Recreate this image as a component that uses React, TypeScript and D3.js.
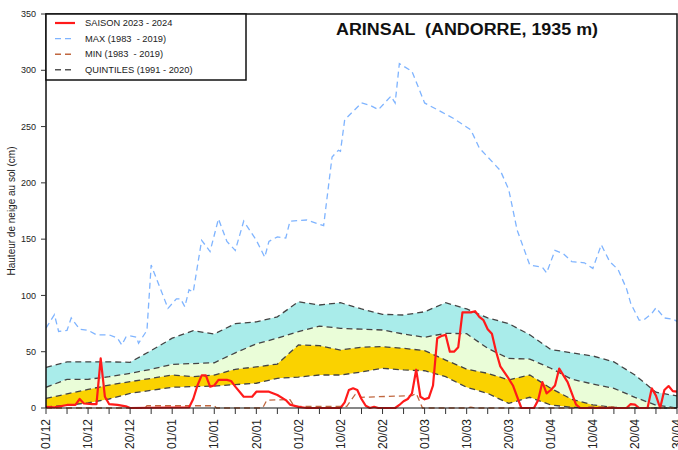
import React from "react";
import * as d3 from "d3";

// ---------- DATA ----------
const xLabels = ["01/12","10/12","20/12","01/01","10/01","20/01","01/02","10/02","20/02","01/03","10/03","20/03","01/04","10/04","20/04","30/04"];
const yTicks = [0,50,100,150,200,250,300,350];

// quintile nodes every 5 days (day index 0..150)
const quintileDays = [0,5,10,15,20,25,30,35,40,45,50,55,60,65,70,75,80,85,90,95,100,105,110,115,120,125,130,135,140,145,150];
const q80 = [36,41,41,41,40.6,51,62,68.7,65.7,75,76.5,81,94.4,91.5,93.5,88,83.2,82.6,85.5,93.5,88,80,75,65,52,49,46.2,41,29.3,14,10.7];
const q60 = [18.4,25.5,25.5,27.8,30.8,34.4,38.8,39.5,40.2,49,57,62,67.8,72.8,70.8,70,69.3,65.7,62.8,66.3,66,53,44,43.5,35.3,25.5,21.3,17.5,9.5,2.5,0];
const q40 = [8.6,12.5,16.5,20.4,23.4,26.3,29.3,27.8,29.3,34.4,36.5,39,56,55.4,51.5,54,54.5,53,51,42.6,34.5,30.8,25,29.3,17.5,7.7,2.7,0.6,0,0,0];
const q20 = [1,2.5,4.5,8,13,15.7,18.4,19,19.5,20.8,22,26.4,27.5,29.3,29.3,32,35.3,33.8,33.1,27.8,18.4,13,4.1,9.5,2.7,0.6,0,0,0,0,0];

const maxDays = [0,2,3,5,6,8,10,12,15,17,18,19,20,21.5,22,24,25,29,31,32,33,34,35,37,39,41,43,45,47,50,52,53,55,57,58,62,66,68,69.5,70,71,75,77,79,82,83,84,87,90,94,97,101,103,108,110,112,115,118,119,121,123,125,128,130,132,134,136,138,139,141,142,144,145,147,149,150];
const maxValues = [71,83,68,69,80,70,69,65,65,62,56,63,64,63,57.5,69,127,88.5,97,97,90,105,103,149,139,168,148,140,166,149,134,148,152,151,166,167,162,223,229,228,256,271,269,265,277,271,306,299,271,263,257,247,231,211,194,158,127,125,120,140,137,130,129,124,145,130,123,106,93,78,78,84,89,80,79,77];

const minDays = [0,23.5,24,40,40.5,51.5,52.5,58,59,71.5,73.5,75,87,88,89.5,100,101,102,128,129,135,136,150];
const minValues = [0,0,2,2,0,0,7,7.5,1.5,1.5,12,9.5,11,13,0,0,0.8,0,0,1,1,0,0];

const seasonDays = [0,2,5,7,8,9,11,12,13,14,15,17,19,20,34,35,36,37,38,39,40,41,43,44,45,47,49,50,53,55,57,58,60,62,70,71,72,73,74,75,76,77,78,79,83,84,85,86,87,88,89,90,91,92,93,94,95,96,97,98,99,101,102,103,104,105,106,107,108,110,111,112,113,116,117,118,119,120,121,122,123,124,125,126,127,138,139,140,141,143,144,145,146,147,148,149,150];
const seasonValues = [1,0.5,2.7,2.7,8,4,3.5,3.5,44,10,3.5,2.7,1.5,0,0.5,8,20,29,29,19,20,25,25,24,19,10,10,14.5,14.5,11.5,7,3,1,0,0,5,16,17.5,16,8,2,0,1,0,0,2.7,6,8,13,34,10,7.7,9,20,62,64,65,50,50,54,85,85,86,81,78,70,66,50,37,26,20,10,0,0,7,23,13,16,20,35,29,23,13,3,0,0,3.5,3,0,0,17.5,11,0,16,19.5,15,14.5];

const legendItems = [
  { label: "SAISON 2023 - 2024", color: "#ff1a1a", dash: "", width: 2.2 },
  { label: "MAX (1983  - 2019)", color: "#7fb4ff", dash: "6,4", width: 1.4 },
  { label: "MIN (1983  - 2019)", color: "#c0673f", dash: "6,4", width: 1.4 },
  { label: "QUINTILES (1991 - 2020)", color: "#555555", dash: "6,4", width: 1.4 },
];

// ---------- CHART ----------
export default function App() {
  const left = 46, right = 677, top = 14, bottom = 408;
  const x = d3.scaleLinear().domain([0, 150]).range([left, right]);
  const y = d3.scaleLinear().domain([0, 350]).range([bottom, top]);

  const band = (lo: number[], hi: number[]) =>
    d3.area<number>()
      .x((i) => x(quintileDays[i]))
      .y0((i) => y(lo[i]))
      .y1((i) => y(hi[i]))(quintileDays.map((_, i) => i)) || "";

  const qLine = (vals: number[]) =>
    d3.line<number>().x((i) => x(quintileDays[i])).y((i) => y(vals[i]))(quintileDays.map((_, i) => i)) || "";

  const seriesLine = (ds: number[], vs: number[]) =>
    d3.line<number>().x((i) => x(ds[i])).y((i) => y(vs[i]))(ds.map((_, i) => i)) || "";

  const majorTicks = xLabels.map((_, i) => i * 10);
  const minorTicks = xLabels.slice(0, -1).map((_, i) => i * 10 + 5);
  const font = "'Liberation Sans', Arial, Helvetica, sans-serif";

  return (
    <svg width={678} height={450} style={{ position: "absolute", left: 0, top: 0, background: "#fff" }} fontFamily={font}>
      <rect x={0} y={0} width={678} height={450} fill="#fff" />
      <defs>
        <clipPath id="plot">
          <rect x={left} y={top} width={right - left} height={bottom - top + 2} />
        </clipPath>
      </defs>
      <g clipPath="url(#plot)">
        <path d={band(q60, q80)} fill="#a9ecea" />
        <path d={band(q40, q60)} fill="#eafdd8" />
        <path d={band(q20, q40)} fill="#fad200" />
        {[q20, q40, q60, q80].map((q, k) => (
          <path key={k} d={qLine(q)} fill="none" stroke="#444" strokeWidth={1.3} strokeDasharray="6,4" />
        ))}
        <path d={seriesLine(minDays, minValues)} fill="none" stroke="#c0673f" strokeWidth={1.3} strokeDasharray="6,4" />
        <path d={seriesLine(maxDays, maxValues)} fill="none" stroke="#7fb4ff" strokeWidth={1.3} strokeDasharray="6,4" />
        <path d={seriesLine(seasonDays, seasonValues)} fill="none" stroke="#ff1a1a" strokeWidth={2.2} strokeLinejoin="round" />
      </g>

      {/* frame */}
      <path d={`M${left},${bottom}V${top}H${right}V${bottom}`} fill="none" stroke="#111" strokeWidth={1.5} />
      <line x1={left} x2={right} y1={bottom} y2={bottom} stroke="#111" strokeWidth={1.2} />

      {/* y axis */}
      {yTicks.map((t) => (
        <g key={t}>
          <line x1={left - 5} x2={left} y1={y(t)} y2={y(t)} stroke="#333" strokeWidth={1} />
          <text x={36} y={y(t)} dy="0.35em" textAnchor="end" fontSize={9} fill="#222">{t}</text>
        </g>
      ))}
      <text transform={`translate(11,211) rotate(-90)`} dy="0.35em" textAnchor="middle" fontSize={10} fill="#222">
        Hauteur de neige au sol (cm)
      </text>

      {/* x axis */}
      {majorTicks.concat(minorTicks).map((t) => (
        <line key={t} x1={x(t)} x2={x(t)} y1={bottom} y2={bottom + 6} stroke="#333" strokeWidth={1} />
      ))}
      {xLabels.map((lab, i) => (
        <text key={lab} transform={`translate(${x(majorTicks[i])},419) rotate(-90)`} dy="0.35em" textAnchor="end" fontSize={12} fill="#222">
          {lab}
        </text>
      ))}

      {/* title */}
      <text x={336} y={35} fontSize={16} fontWeight="bold" fill="#111" textLength={262} lengthAdjust="spacingAndGlyphs" style={{ whiteSpace: "pre" }}>
        {"ARINSAL  (ANDORRE, 1935 m)"}
      </text>

      {/* legend */}
      <rect x={left} y={top} width={200} height={66} fill="#fff" stroke="#111" strokeWidth={1.5} />
      {legendItems.map((it, i) => {
        const yy = 23 + i * 15.6;
        return (
          <g key={it.label}>
            <line x1={55} x2={75} y1={yy} y2={yy} stroke={it.color} strokeWidth={it.width} strokeDasharray={it.dash || undefined} />
            <text x={85} y={yy} dy="0.35em" fontSize={9.3} fill="#222" style={{ whiteSpace: "pre" }}>{it.label}</text>
          </g>
        );
      })}
    </svg>
  );
}
